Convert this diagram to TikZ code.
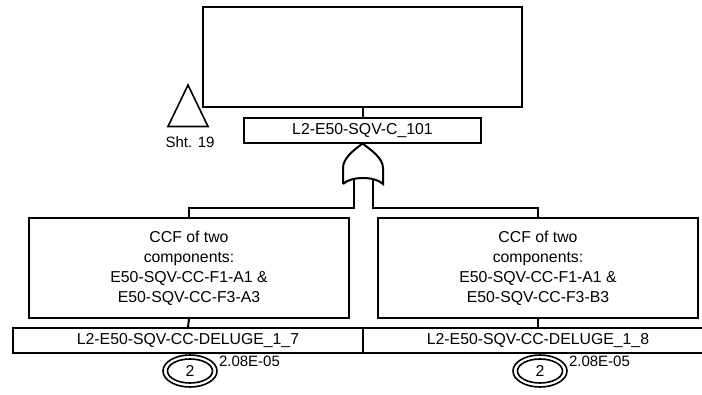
\documentclass[tikz,border=0pt]{standalone}
\usepackage{fontspec}
\setmainfont{Liberation Sans}
\usetikzlibrary{shapes.geometric}
\begin{document}
\begin{tikzpicture}[x=1pt,y=-1pt,
  line width=2pt,
  evbox/.style={draw, rectangle, inner sep=0pt, minimum width=320pt, minimum height=100pt, align=center,
    font=\fontsize{15.8}{20}\selectfont},
  lblbox/.style={draw, rectangle, inner sep=0pt, minimum height=25pt,
    font=\fontsize{15.8}{18}\selectfont},
  small/.style={inner sep=0pt, font=\fontsize{15}{17}\selectfont},
  wire/.style={line width=2pt},
  outerc/.style={draw, ellipse, line width=1.6pt, minimum width=54pt, minimum height=32pt, inner sep=0pt},
  innerc/.style={draw, ellipse, line width=1.6pt, minimum width=45pt, minimum height=24pt, inner sep=0pt,
    font=\fontsize{15.8}{18}\selectfont}
]
\useasboundingbox (0,0) rectangle (702,395);
% top
\node[draw, rectangle, inner sep=0pt, minimum width=319pt, minimum height=100pt] (top) at (362.5,57) {};
\node[lblbox, minimum width=237pt] (c101) at (362.5,130.5) {L2-E50-SQV-C\_101};
\draw[wire] (top.south) -- (c101.north);
% transfer triangle
\draw[line width=1.6pt, line join=miter] (188,85) -- (208,126.5) -- (168,126.5) -- cycle;
\node[small, anchor=center] (sht) at (190,142) {Sht. 19};
% OR gate
\coordinate (gapex) at (362.5,143.5);
\draw[line width=2pt] (343,184) -- (343,168)
  .. controls (343,158) and (354,150) .. (gapex)
  .. controls (371,150) and (383,158) .. (383,168)
  -- (383,184) .. controls (375,176) and (351,176) .. (343,184);
\coordinate (gl) at (354,180.5);
\coordinate (gr) at (373,180.5);
\coordinate (jl) at (354,208);
\coordinate (jr) at (373,208);
% bottom events
\node[evbox] (lbox) at (189,268) {CCF of two\\components:\\E50-SQV-CC-F1-A1 \&\\E50-SQV-CC-F3-A3};
\node[evbox] (rbox) at (538,268) {CCF of two\\components:\\E50-SQV-CC-F1-A1 \&\\E50-SQV-CC-F3-B3};
\node[lblbox, minimum width=350pt] (llbl) at (188,340.5) {L2-E50-SQV-CC-DELUGE\_1\_7};
\node[lblbox, minimum width=350pt] (rlbl) at (538,340.5) {L2-E50-SQV-CC-DELUGE\_1\_8};
\draw[wire] (gl) -- (jl) -| (lbox.north);
\draw[wire] (gr) -- (jr) -| (rbox.north);
\draw[wire] (lbox.south) -- (llbl.north);
\draw[wire] (rbox.south) -- (rlbl.north);
% double circles
\node[outerc] (lco) at (190,371) {};
\node[innerc] (lci) at (190,371) {2};
\node[outerc] (rco) at (540,371) {};
\node[innerc] (rci) at (540,371) {2};
\node[small, anchor=west] (lp) at (218,361) {2.08E-05};
\node[small, anchor=west] (rp) at (568,361) {2.08E-05};
\end{tikzpicture}
\end{document}
